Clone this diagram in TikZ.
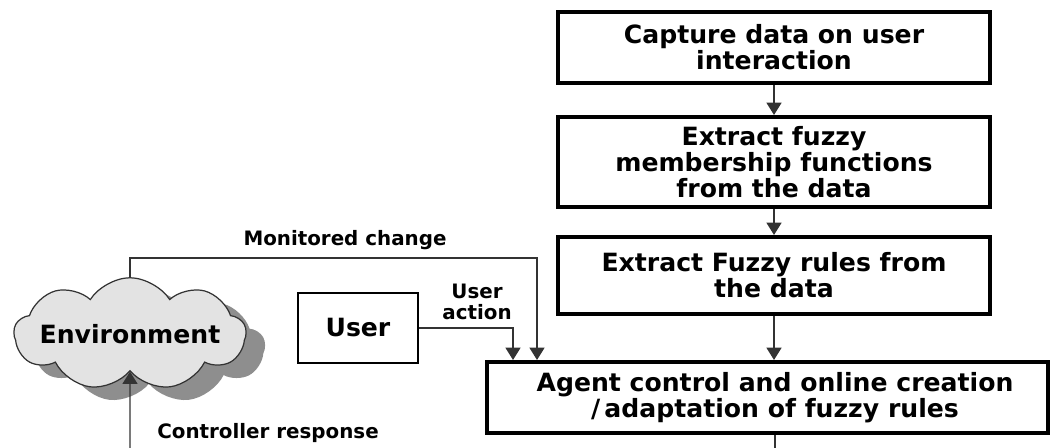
\documentclass[tikz,border=0pt]{standalone}
\usepackage{fontspec}
\setmainfont{DejaVu Sans}
\usetikzlibrary{arrows.meta,shapes.symbols,calc}
\definecolor{cloudfill}{HTML}{E3E3E3}
\definecolor{shadowfill}{HTML}{8E8E8E}
\definecolor{linecol}{HTML}{333333}
\newcommand{\boxfont}{\fontsize{14.3}{14.9}\selectfont\bfseries}
\newcommand{\lblfont}{\fontsize{11.3}{11.6}\selectfont\bfseries}
\begin{document}
\begin{tikzpicture}[x=0.02cm,y=-0.02cm,
  procbox/.style={draw, line width=2.3pt, minimum width=8.64cm, align=center, font=\boxfont, inner sep=0pt},
  userbox/.style={draw, line width=0.9pt, minimum width=2.4cm, minimum height=1.4cm, font=\boxfont, inner sep=0pt},
  conn/.style={draw=linecol, line width=0.85pt, -{Triangle[length=7pt,width=8.5pt]}},
  plain/.style={draw=linecol, line width=0.85pt},
  lbl/.style={font=\lblfont, align=center, inner sep=0pt},
  envcloud/.style={cloud, cloud puffs=9, cloud puff arc=115, aspect=2.05, minimum width=4.64cm, minimum height=2.25cm, inner sep=0pt}
]
\useasboundingbox (0,0) rectangle (1051,448);

% process boxes
\node[procbox, minimum height=1.42cm] (capture) at (774,47.5) {Capture data on user\\interaction};
\node[procbox, minimum height=1.8cm] (member) at (774,162) {Extract fuzzy\\membership functions\\from the data};
\node[procbox, minimum height=1.54cm] (rules) at (774,275.5) {Extract Fuzzy rules from\\the data};
\node[procbox, minimum width=11.22cm, minimum height=1.42cm] (agent) at (767.5,397.5) {\hspace*{0.3cm}Agent control and online creation\\\hspace*{0.3cm}/\,adaptation of fuzzy rules};

% environment cloud with shadow
\node[envcloud, fill=shadowfill] (envshadow) at (149,347) {};
\node[envcloud, draw=linecol, line width=0.7pt, fill=cloudfill,
      label={[font=\boxfont, inner sep=0pt]center:Environment}] (env) at (130,334) {};

% user
\node[userbox] (user) at (358,328) {User};

% connectors between process boxes
\draw[conn] (capture.south) -- (member.north);
\draw[conn] (member.south) -- (rules.north);
\draw[conn] (rules.south) -- (rules.south |- agent.north);
\coordinate (agentout) at (775,452);
\draw[plain] (agentout |- agent.south) -- (agentout);

% monitored change
\coordinate (mcturn) at (537,258);
\draw[conn] (env.north) |- (mcturn) -- (mcturn |- agent.north);
\node[lbl] (mclbl) at (345,240) {Monitored change};

% user action
\coordinate (uaturn) at (513,328);
\draw[conn] (user.east) -- (uaturn) -- (uaturn |- agent.north);
\node[lbl] (ualbl) at (477,302) {User\\action};

% controller response
\coordinate (crin) at (130,452);
\draw[conn] (crin) -- (env.south);
\node[lbl, anchor=west] (crlbl) at (157,433) {Controller response};
\end{tikzpicture}
\end{document}
